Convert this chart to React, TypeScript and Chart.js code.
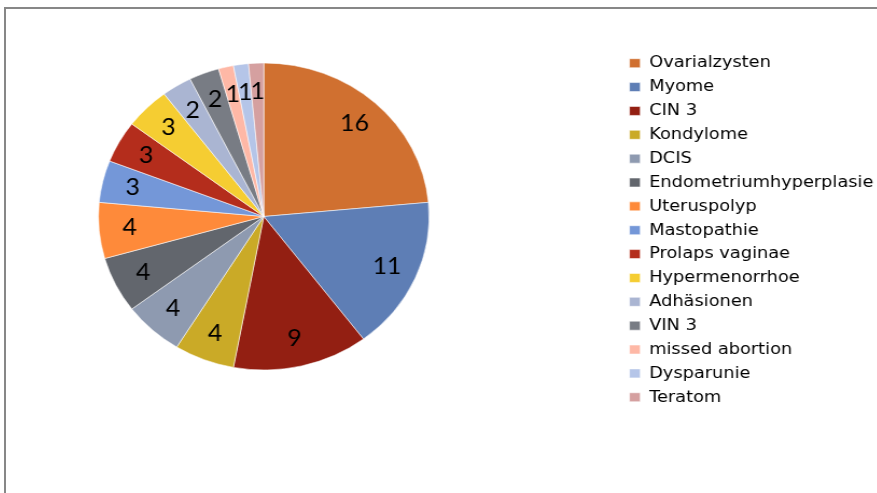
import React, { useEffect, useRef } from "react";
import { Chart, registerables } from "chart.js";

Chart.register(...registerables);

const categories = [
  "Ovarialzysten",
  "Myome",
  "CIN 3",
  "Kondylome",
  "DCIS",
  "Endometriumhyperplasie",
  "Uteruspolyp",
  "Mastopathie",
  "Prolaps vaginae",
  "Hypermenorrhoe",
  "Adhäsionen",
  "VIN 3",
  "missed abortion",
  "Dysparunie",
  "Teratom",
];

const counts = [16, 11, 9, 4, 4, 4, 4, 3, 3, 3, 2, 2, 1, 1, 1];

const colors = [
  "#D07030",
  "#5E7EB5",
  "#931F12",
  "#CAAA27",
  "#8E9AB0",
  "#62666D",
  "#FE8A3A",
  "#7497D8",
  "#B42D1C",
  "#F5CD32",
  "#AAB5D2",
  "#787C84",
  "#FEB8A6",
  "#B5C5E8",
  "#D5A0A0",
];

// geometry (canvas is stretched horizontally like the reference)
const SX = 1.0774;
const CANVAS_W = 920;
const CANVAS_H = 493;
const CANVAS_LEFT = -94.3;
const PAD_TOP = 47.6;
const LEGEND_LEFT = 664.3;
const TITLE_SPACE = 60 + PAD_TOP;
const PIE_R = 153.5;
const LABEL_FR = 0.815;
const LEGEND_FONT_SIZE = 16.5;
const LEGEND_FONT = "'DejaVu Sans'";
const BOX_W = 10;
const BOX_H = 9;
const LEGEND_PAD = 7.36;

const valueLabels = {
  id: "valueLabels",
  afterDatasetsDraw(chart: any) {
    const ctx = chart.ctx;
    const meta = chart.getDatasetMeta(0);
    const data = chart.data.datasets[0].data as number[];
    ctx.save();
    ctx.font = "23px Lato";
    ctx.fillStyle = "#000";
    ctx.textAlign = "center";
    ctx.textBaseline = "middle";
    meta.data.forEach((arc: any, i: number) => {
      const p = arc.getProps(["x", "y", "startAngle", "endAngle", "outerRadius"], true);
      const mid = (p.startAngle + p.endAngle) / 2;
      const r = p.outerRadius * LABEL_FR;
      ctx.fillText(String(data[i]), p.x + Math.cos(mid) * r, p.y + Math.sin(mid) * r);
    });
    ctx.restore();
  },
};

export default function App() {
  const ref = useRef<HTMLCanvasElement | null>(null);

  useEffect(() => {
    document.body.style.margin = "0";
    document.body.style.overflow = "hidden";
    const canvas = ref.current!;
    canvas.width = CANVAS_W;
    canvas.height = CANVAS_H;

    // measure the natural legend width so the legend lands at LEGEND_LEFT
    const mctx = document.createElement("canvas").getContext("2d")!;
    mctx.font = `normal ${LEGEND_FONT_SIZE}px ${LEGEND_FONT}`;
    let maxText = 0;
    categories.forEach((c) => {
      maxText = Math.max(maxText, mctx.measureText(c).width);
    });
    const legendW = LEGEND_PAD + BOX_W + LEGEND_FONT_SIZE / 2 + maxText + 10;
    const padRight = Math.max(0, CANVAS_W - LEGEND_LEFT - legendW);

    const chart = new Chart(canvas, {
      type: "pie",
      data: {
        labels: categories,
        datasets: [
          {
            data: counts,
            backgroundColor: colors,
            borderColor: "rgba(255,255,255,0.55)",
            borderWidth: 1,
            radius: PIE_R,
          } as any,
        ],
      },
      plugins: [valueLabels],
      options: {
        responsive: false,
        animation: false,
        devicePixelRatio: 1,
        layout: { padding: { top: PAD_TOP, right: padRight, bottom: 0, left: 0 } },
        plugins: {
          tooltip: { enabled: false },
          title: {
            display: true,
            text: "",
            position: "bottom",
            font: { size: 10, lineHeight: 1.2 },
            padding: { top: TITLE_SPACE - 12, bottom: 0 },
          },
          legend: {
            position: "right",
            align: "start",
            labels: {
              boxWidth: BOX_W,
              boxHeight: BOX_H,
              padding: LEGEND_PAD,
              color: "#000",
              font: { family: LEGEND_FONT, size: LEGEND_FONT_SIZE },
            },
          },
        },
      },
    });
    return () => chart.destroy();
  }, []);

  return (
    <div style={{ position: "relative", width: 877, height: 493, overflow: "hidden", background: "#fff" }}>
      <div
        style={{
          position: "absolute",
          left: 4,
          top: 7,
          width: 900,
          height: 500,
          borderLeft: "2px solid #878787",
          borderTop: "2px solid #878787",
        }}
      />
      <canvas
        ref={ref}
        width={CANVAS_W}
        height={CANVAS_H}
        style={{
          position: "absolute",
          left: CANVAS_LEFT,
          top: 0,
          width: CANVAS_W * SX,
          height: CANVAS_H,
        }}
      />
    </div>
  );
}
